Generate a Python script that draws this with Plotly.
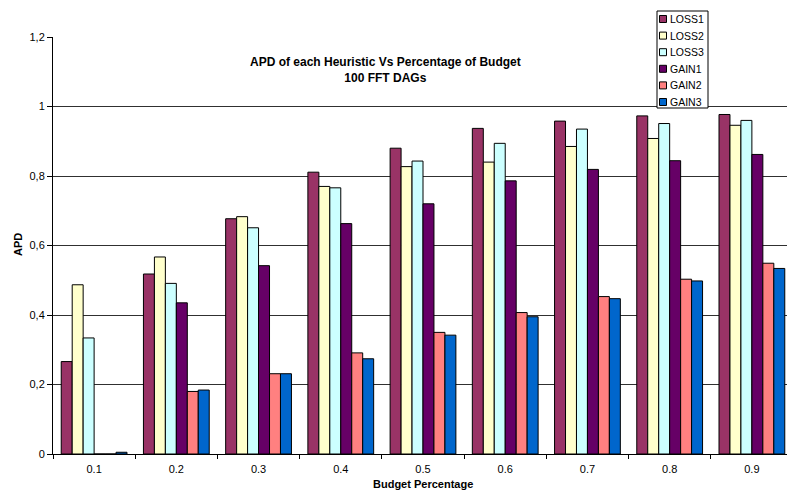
import plotly.graph_objects as go

categories = ["0.1", "0.2", "0.3", "0.4", "0.5", "0.6", "0.7", "0.8", "0.9"]
loss1 = [0.266, 0.518, 0.677, 0.811, 0.880, 0.937, 0.958, 0.973, 0.977]
loss2 = [0.487, 0.567, 0.683, 0.770, 0.827, 0.840, 0.885, 0.908, 0.946]
loss3 = [0.334, 0.491, 0.651, 0.766, 0.843, 0.894, 0.935, 0.951, 0.960]
gain1 = [0.0, 0.435, 0.542, 0.663, 0.720, 0.786, 0.819, 0.844, 0.862]
gain2 = [0.0, 0.180, 0.231, 0.291, 0.350, 0.407, 0.453, 0.503, 0.549]
gain3 = [0.005, 0.184, 0.231, 0.274, 0.342, 0.395, 0.447, 0.498, 0.534]

series_names = ["LOSS1", "LOSS2", "LOSS3", "GAIN1", "GAIN2", "GAIN3"]
series_values = [loss1, loss2, loss3, gain1, gain2, gain3]
series_colors = ["#993366", "#FFFFCC", "#CCFFFF", "#660066", "#FF8080", "#0066CC"]

y_ticks = [0, 0.2, 0.4, 0.6, 0.8, 1.0, 1.2]
y_tick_labels = ["0", "0,2", "0,4", "0,6", "0,8", "1", "1,2"]

FONT = "Liberation Sans, Arial, sans-serif"

# plot-area geometry (pixels) used to convert positions to paper coords
L, T, W, H = 53, 37, 734, 417
def px(xp):
    return (xp - L) / W
def py(yp):
    return (T + H - yp) / H

fig = go.Figure()
for name, vals, col in zip(series_names, series_values, series_colors):
    fig.add_trace(go.Bar(
        x=categories, y=vals, name=name,
        marker=dict(color=col, line=dict(color="#000000", width=1)),
    ))

shapes = []
annotations = []

# manual legend (Excel-style compact box)
lx0, lx1, ly0, ly1 = 657, 708, 11, 108
shapes.append(dict(type="rect", xref="paper", yref="paper",
                   x0=px(lx0), x1=px(lx1), y0=py(ly1), y1=py(ly0),
                   fillcolor="white", line=dict(color="black", width=1), layer="above"))
for i, (name, col) in enumerate(zip(series_names, series_colors)):
    cy = 19 + 16.6 * i
    shapes.append(dict(type="rect", xref="paper", yref="paper",
                       x0=px(659.5), x1=px(666.5), y0=py(cy + 3.5), y1=py(cy - 3.5),
                       fillcolor=col, line=dict(color="black", width=1), layer="above"))
    annotations.append(dict(text=name, xref="paper", yref="paper",
                            x=px(668), y=py(cy), xanchor="left", yanchor="middle",
                            showarrow=False,
                            font=dict(family=FONT, size=10.5, color="black")))

annotations += [
    dict(text="<b>APD of each Heuristic Vs Percentage of Budget</b><br><b>100 FFT DAGs</b>",
         xref="paper", yref="paper", x=px(385), y=py(70),
         xanchor="center", yanchor="middle", showarrow=False,
         font=dict(family=FONT, size=12, color="black")),
    dict(text="<b>APD</b>", textangle=-90,
         xref="paper", yref="paper", x=px(18), y=py(245),
         xanchor="center", yanchor="middle", showarrow=False,
         font=dict(family=FONT, size=11, color="black")),
    dict(text="<b>Budget Percentage</b>",
         xref="paper", yref="paper", x=px(423), y=py(484),
         xanchor="center", yanchor="middle", showarrow=False,
         font=dict(family=FONT, size=11, color="black")),
]

fig.update_layout(
    width=787, height=496,
    margin=dict(l=L, r=787 - L - W, t=T, b=496 - T - H, pad=0, autoexpand=False),
    paper_bgcolor="white", plot_bgcolor="white",
    barmode="group", bargap=0.2, bargroupgap=0,
    font=dict(family=FONT, size=11, color="black"),
    showlegend=False,
    xaxis=dict(
        type="category", range=[-0.5, 8.427],
        showline=True, linecolor="black", linewidth=1,
        ticks="outside", ticklen=4, tickcolor="black", tickson="boundaries",
        ticklabelstandoff=5,
        showgrid=False, tickfont=dict(size=11), automargin=False,
    ),
    yaxis=dict(
        range=[0, 1.2], tickvals=y_ticks, ticktext=y_tick_labels,
        showline=True, linecolor="black", linewidth=1,
        ticks="outside", ticklen=5, tickcolor="black",
        showgrid=True, gridcolor="#303030", gridwidth=1,
        zeroline=False, tickfont=dict(size=11), automargin=False,
    ),
    shapes=shapes,
    annotations=annotations,
)

fig.write_html(
    "out.html",
    config={"displayModeBar": False},
    post_script="document.body.style.margin='0';document.body.style.padding='0';"
                "document.body.style.overflow='hidden';",
)
